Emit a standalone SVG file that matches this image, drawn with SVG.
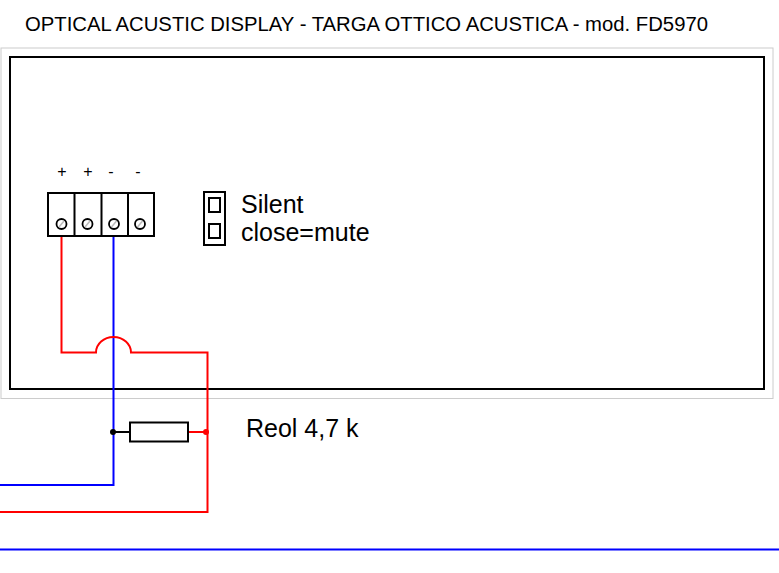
<svg xmlns="http://www.w3.org/2000/svg" width="779" height="573" viewBox="0 0 779 573">
<style>
text{font-family:"Liberation Sans",Arial,sans-serif;fill:#000}
.k{fill:none;stroke:#000;stroke-width:2}
.w{fill:#fff;stroke:#000;stroke-width:2}
.r{fill:none;stroke:#f00;stroke-width:2}
.b{fill:none;stroke:#00f;stroke-width:2}
.s{fill:#fff;stroke:#000;stroke-width:2}
.t{font-size:20.300px}
.l{font-size:25px}
.p{font-size:16px}
</style>
<rect width="779" height="573" fill="#fff"/>
<text id="title" x="25" y="31" class="t">OPTICAL ACUSTIC DISPLAY - TARGA OTTICO ACUSTICA - mod. FD5970</text>
<g id="enclosure">
<rect x="1" y="48" width="772" height="350.500" fill="none" stroke="#ccc" stroke-width="1"/>
<rect x="10" y="57" width="754" height="332" class="k"/>
</g>
<g id="connectors">
<path class="b" d="M113.500 236V485H0"/>
<path class="r" d="M61.500 236V352.500H96A17.500 15.500 0 0 1 131 352.500H207.500V512H0"/>
<path class="b" d="M0 549.500H779"/>
<path class="k" d="M113 432H130"/>
<path class="r" d="M188 432H207"/>
</g>
<g id="terminal">
<rect x="48" y="193" width="106" height="43" class="k"/>
<path class="k" d="M74.500 193V236M101.500 193V236M128 193V236"/>
<g stroke="#000" stroke-width="1.800" fill="#fff">
<circle cx="61.500" cy="224" r="5"/><circle cx="87.500" cy="224" r="5"/><circle cx="114" cy="224" r="5"/><circle cx="140" cy="224" r="5"/>
</g>
<path d="M59 227L64 221M85 227L90 221M111.500 227L116.500 221M137.500 227L142.500 221" stroke="#bbb" stroke-width="1.500"/>
<text x="62" y="177" class="p" text-anchor="middle">+</text>
<text x="88" y="177" class="p" text-anchor="middle">+</text>
<text x="111" y="177" class="p" text-anchor="middle">-</text>
<text x="138" y="177" class="p" text-anchor="middle">-</text>
</g>
<g id="jumper">
<rect x="204" y="192" width="21" height="53" class="k"/>
<rect x="209" y="198" width="11" height="14" class="s"/>
<rect x="209" y="224" width="11" height="14" class="s"/>
<text x="241" y="213" class="l">Silent</text>
<text x="241" y="241" class="l">close=mute</text>
</g>
<g id="resistor">
<rect x="130" y="422.500" width="58" height="19" class="w"/>
<circle cx="113" cy="432" r="3" fill="#000"/>
<circle cx="206" cy="432" r="3" fill="#f00"/>
<text x="246" y="437" class="l">Reol 4,7 k</text>
</g>
</svg>
